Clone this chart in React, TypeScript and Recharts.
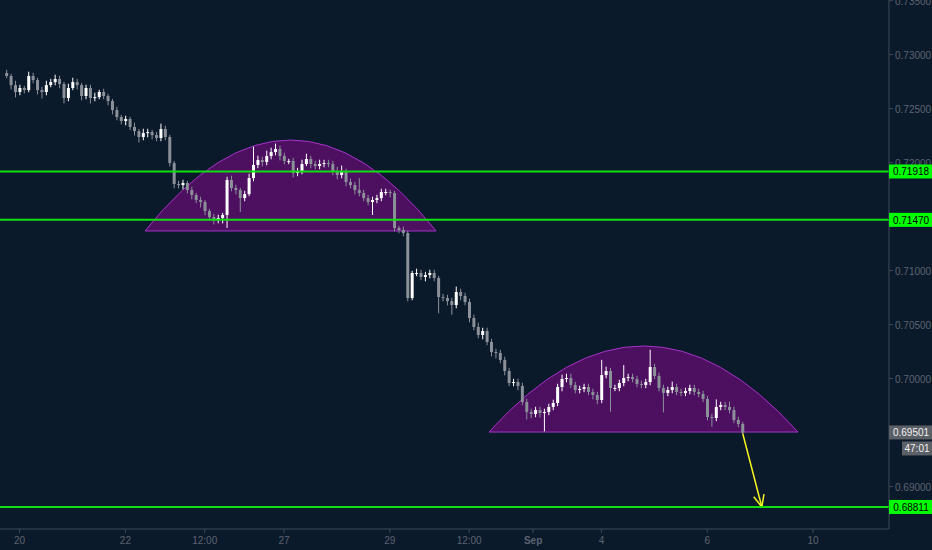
import React from "react";
import { ComposedChart, Bar, XAxis, YAxis, ReferenceLine, ReferenceArea } from "recharts";

// 2h candles, hours counted from Aug 20 00:00 (trading time)
const startHour = -6;
const stepHours = 2;
const firstOpen = 0.7283;

const closes = [
  0.72802, 0.72718, 0.72654, 0.72691, 0.72672, 0.72802, 0.72765, 0.72672, 0.72654, 0.72718, 0.72746, 0.72774,
  0.72728, 0.72598, 0.72691, 0.72746, 0.72718, 0.72617, 0.72691, 0.72598, 0.72607, 0.72654, 0.72617, 0.7257,
  0.72487, 0.72422, 0.72385, 0.72404, 0.7233, 0.72292, 0.72237, 0.72274, 0.72283, 0.72255, 0.72228, 0.72311,
  0.72237, 0.71996, 0.71802, 0.71792, 0.71811, 0.71746, 0.717, 0.71654, 0.71635, 0.71552, 0.71496, 0.71468,
  0.71487, 0.71515, 0.71839, 0.71765, 0.71746, 0.71672, 0.71709, 0.71857, 0.71978, 0.72024, 0.72005, 0.72061,
  0.72098, 0.72126, 0.72061, 0.72015, 0.72015, 0.71904, 0.71922, 0.71987, 0.72033, 0.71987, 0.71968, 0.71987,
  0.71996, 0.71987, 0.71922, 0.71885, 0.71913, 0.7182, 0.71792, 0.71746, 0.71718, 0.71672, 0.71635, 0.71654,
  0.71672, 0.71728, 0.71728, 0.71718, 0.71394, 0.71376, 0.71348, 0.70746, 0.70978, 0.70978, 0.70941, 0.70959,
  0.70978, 0.70931, 0.70755, 0.70746, 0.70718, 0.70681, 0.70802, 0.70765, 0.70709, 0.70561, 0.70478, 0.70404,
  0.70441, 0.70339, 0.70246, 0.70237, 0.70172, 0.7007, 0.69959, 0.69968, 0.69931, 0.69783, 0.69691, 0.69672,
  0.69709, 0.69681, 0.69691, 0.69737, 0.69774, 0.69922, 0.69996, 0.70005, 0.69941, 0.69894, 0.69904, 0.69922,
  0.69876, 0.69848, 0.69802, 0.70033, 0.7007, 0.69913, 0.69913, 0.69959, 0.70005, 0.70015, 0.69996, 0.6995,
  0.69941, 0.69968, 0.70107, 0.70024, 0.69913, 0.69867, 0.69894, 0.69922, 0.69876, 0.69867, 0.69885, 0.69913,
  0.69876, 0.69857, 0.69811, 0.69644, 0.69635, 0.69737, 0.69755, 0.69737, 0.69709, 0.69617, 0.6958, 0.69501,
];

// wick lengths in pips above / below the body
const upWicks = [
  3, 2, 4, 3, 2, 4, 3, 2, 3, 4, 3, 4,
  3, 2, 4, 4, 3, 2, 3, 3, 4, 2, 3, 2,
  2, 3, 2, 3, 2, 4, 2, 4, 3, 2, 3, 5,
  3, 2, 2, 3, 3, 2, 3, 2, 3, 2, 2, 3,
  3, 2, 3, 4, 3, 2, 3, 4, 17, 4, 3, 5,
  4, 5, 3, 3, 2, 3, 3, 4, 5, 3, 3, 4,
  3, 3, 3, 4, 6, 3, 3, 3, 11, 3, 3, 3,
  3, 3, 3, 2, 2, 2, 3, 2, 2, 4, 3, 3,
  3, 3, 2, 3, 3, 3, 5, 3, 3, 3, 3, 4,
  3, 3, 3, 3, 3, 3, 3, 3, 3, 3, 3, 3,
  3, 3, 3, 3, 3, 3, 4, 4, 4, 3, 3, 3,
  3, 3, 3, 14, 4, 3, 3, 3, 12, 3, 3, 3,
  3, 3, 16, 3, 3, 3, 3, 5, 3, 3, 3, 3,
  3, 3, 3, 3, 3, 7, 3, 3, 5, 3, 3, 2,
];
const downWicks = [
  2, 4, 5, 3, 3, 2, 3, 4, 6, 3, 2, 3,
  4, 5, 3, 2, 4, 4, 3, 5, 3, 2, 3, 4,
  4, 3, 3, 4, 3, 4, 5, 3, 4, 4, 3, 3,
  3, 3, 4, 3, 4, 3, 4, 3, 5, 4, 3, 4,
  3, 5, 12, 3, 4, 13, 3, 2, 3, 3, 4, 3,
  3, 3, 4, 3, 3, 4, 3, 3, 2, 4, 3, 3,
  3, 3, 4, 4, 3, 4, 3, 4, 3, 3, 3, 12,
  3, 3, 3, 4, 3, 3, 3, 3, 2, 3, 3, 4,
  3, 3, 15, 3, 4, 9, 3, 4, 3, 4, 3, 3,
  4, 3, 4, 5, 3, 4, 3, 3, 4, 3, 7, 4,
  3, 4, 17, 3, 3, 3, 4, 3, 3, 3, 3, 3,
  3, 4, 4, 3, 3, 22, 3, 3, 3, 3, 3, 3,
  3, 3, 3, 3, 3, 18, 3, 3, 3, 3, 3, 3,
  3, 3, 3, 3, 8, 3, 3, 3, 3, 3, 3, 2,
];

const xTicks = [0, 48, 84, 120, 168, 204, 233, 264, 312, 360];
const xTickLabels = ["20", "22", "12:00", "27", "29", "12:00", "Sep", "4", "6", "10"];

const yTicks = [0.69, 0.7, 0.705, 0.71, 0.72, 0.725, 0.73, 0.735];
const levels = [0.71918, 0.7147, 0.68811];
const lastPrice = 0.69501;
const countdown = "47:01";

// arc drawings: time span, base price, top price
const arcs = [
  { x1: 56.9, x2: 189, base: 0.71367, top: 0.72209 },
  { x1: 213, x2: 353.2, base: 0.69505, top: 0.70302 },
];
const arrow = { x1: 328, x2: 336.8, from: 0.69501, to: 0.68811 };

const candles = closes.map((close, i) => {
  const open = i === 0 ? firstOpen : closes[i - 1];
  const high = Math.max(open, close) + upWicks[i] * 0.0001;
  const low = Math.min(open, close) - downWicks[i] * 0.0001;
  return { t: startHour + i * stepHours, open, close, high, low, range: [low, high] };
});

const FONT = "'Liberation Sans', Arial, sans-serif";
const BG = "#0b1a2b";
const AXIS = "#3e4858";
const LABEL = "#5c6371";

const Candle = (props: any) => {
  const { x, y, width, height, payload } = props;
  if (!payload || x == null || y == null) return null;
  const top = Math.min(y, y + height);
  const h = Math.abs(height);
  const { open, close, high, low } = payload;
  const k = high - low > 0 ? h / (high - low) : 0;
  const yo = top + (high - open) * k;
  const yc = top + (high - close) * k;
  const cx = x + width / 2;
  const color = close >= open ? "#ffffff" : "#8b9099";
  return (
    <g>
      <line x1={cx} x2={cx} y1={top} y2={top + h} stroke={color} strokeWidth={1} />
      <rect x={cx - 1.5} y={Math.min(yo, yc)} width={3} height={Math.max(1, Math.abs(yo - yc))} fill={color} />
    </g>
  );
};

const ArcShape = (props: any) => {
  const { x, y, width, height } = props;
  const d = `M ${x} ${y + height} Q ${x + width / 2} ${y - height} ${x + width} ${y + height} Z`;
  return <path d={d} fill="rgba(170,0,170,0.42)" stroke="#a533c8" strokeWidth={1} />;
};

const ArrowShape = (props: any) => {
  const { x, y, width, height } = props;
  const x2 = x + width;
  const y2 = y + height;
  const ang = Math.atan2(height, width);
  const len = 13;
  const a1 = ang + Math.PI - 0.42;
  const a2 = ang + Math.PI + 0.42;
  return (
    <g stroke="#f5f51e" strokeWidth={1.5} fill="none">
      <line x1={x} y1={y} x2={x2} y2={y2} />
      <line x1={x2} y1={y2} x2={x2 + len * Math.cos(a1)} y2={y2 + len * Math.sin(a1)} />
      <line x1={x2} y1={y2} x2={x2 + len * Math.cos(a2)} y2={y2 + len * Math.sin(a2)} />
    </g>
  );
};

const XTick = (props: any) => {
  const { x, y, payload } = props;
  const label = xTickLabels[xTicks.indexOf(payload.value)];
  return (
    <text x={x} y={y + 9} textAnchor="middle" fontSize={10} fontFamily={FONT} fill={LABEL} fontWeight={label === "Sep" ? "bold" : "normal"}>
      {label}
    </text>
  );
};

const YTick = (props: any) => {
  const { x, y, payload } = props;
  const v = payload.value;
  const base = x - 6;
  if (levels.includes(v)) {
    return (
      <g>
        <rect x={base} y={y - 7} width={43} height={14} fill="#00ff00" />
        <text x={base + 22} y={y + 4} textAnchor="middle" fontSize={10} fontFamily={FONT} fill="#000">
          {v.toFixed(5)}
        </text>
      </g>
    );
  }
  if (v === lastPrice) {
    return (
      <g>
        <rect x={base} y={y - 7} width={43} height={14} fill="#5b5f66" />
        <text x={base + 22} y={y + 4} textAnchor="middle" fontSize={10} fontFamily={FONT} fill="#f2f2f2">
          {v.toFixed(5)}
        </text>
        <rect x={base + 13} y={y + 9} width={30} height={14} fill="#5b5f66" />
        <text x={base + 28} y={y + 20} textAnchor="middle" fontSize={10} fontFamily={FONT} fill="#f2f2f2">
          {countdown}
        </text>
      </g>
    );
  }
  return (
    <text x={x} y={y + 4} textAnchor="start" fontSize={10} fontFamily={FONT} fill={LABEL}>
      {v.toFixed(5)}
    </text>
  );
};

export default function App() {
  return (
    <div style={{ width: 932, height: 550, background: BG }}>
      <style>{`body{margin:0;background:${BG}}`}</style>
      <ComposedChart width={932} height={550} data={candles} margin={{ top: 0, right: 0, bottom: 0, left: 0 }}>
        <XAxis
          dataKey="t"
          type="number"
          domain={[-8.9, 394.5]}
          allowDataOverflow
          ticks={xTicks}
          interval={0}
          height={21}
          stroke={AXIS}
          tickSize={4}
          tickMargin={2}
          tick={<XTick />}
        />
        <YAxis
          orientation="right"
          type="number"
          domain={[0.68607, 0.73506]}
          allowDataOverflow
          ticks={[...yTicks, lastPrice, ...levels]}
          interval={0}
          width={43}
          stroke={AXIS}
          tickSize={4}
          tickMargin={2}
          tick={<YTick />}
        />
        {levels.map((lv) => (
          <ReferenceLine key={lv} y={lv} stroke="#10e010" strokeWidth={2} />
        ))}
        <Bar dataKey="range" barSize={3} isAnimationActive={false} shape={(p: any) => <Candle {...p} />} />
        {arcs.map((a, i) => (
          <ReferenceArea key={i} x1={a.x1} x2={a.x2} y1={a.base} y2={a.top} shape={(p: any) => <ArcShape {...p} />} />
        ))}
        <ReferenceArea x1={arrow.x1} x2={arrow.x2} y1={arrow.from} y2={arrow.to} shape={(p: any) => <ArrowShape {...p} />} />
      </ComposedChart>
    </div>
  );
}
